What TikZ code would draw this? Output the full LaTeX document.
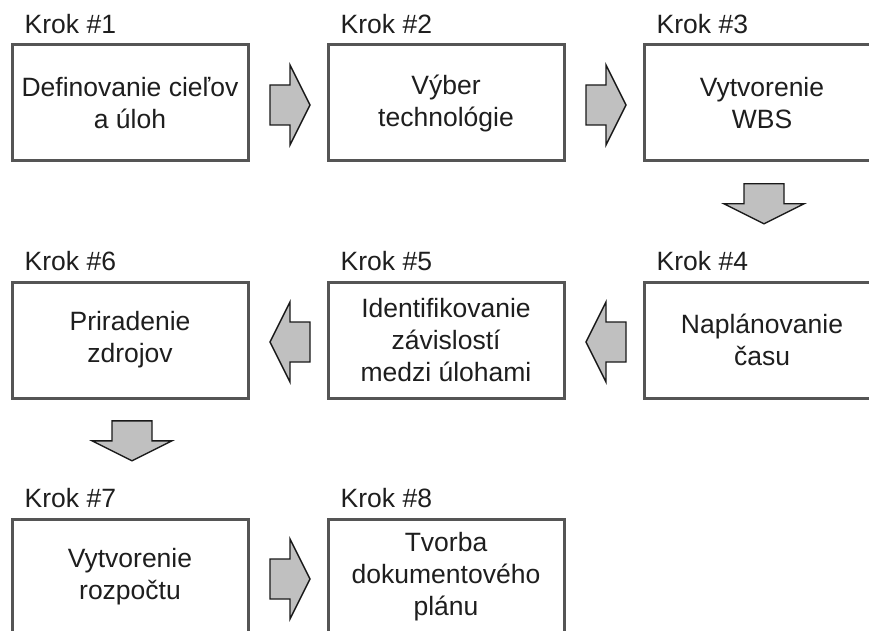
\documentclass[tikz,border=0pt]{standalone}
\usepackage{fontspec}
\setmainfont{Liberation Sans}
\usetikzlibrary{calc}

\definecolor{boxline}{HTML}{555555}
\definecolor{arrowfill}{HTML}{C0C0C0}
\definecolor{ink}{HTML}{1E1E1E}

\tikzset{
  stepbox/.style={draw=boxline, line width=3pt, fill=white,
    minimum width=236pt, minimum height=116pt, inner sep=0pt,
    align=center, text=ink,
    font=\fontsize{26.5}{32}\selectfont},
  steplabel/.style={anchor=base west, inner sep=0pt, text=ink,
    font=\fontsize{26.5}{32}\selectfont},
  blockarrow/.pic={
    \draw[draw=black!90, fill=arrowfill, line width=1.4pt, line join=miter]
      (-20,-20) -- (0,-20) -- (0,-40) -- (20,0) -- (0,40) -- (0,20)
      -- (-20,20) -- cycle;
  }
}

\begin{document}
\begin{tikzpicture}[x=1pt, y=-1pt]
  \useasboundingbox (0,0) rectangle (869,631);
  \clip (0,0) rectangle (869,631);

  % step boxes, three columns and three rows
  \node[stepbox] (b1) at (130,103) {Definovanie cieľov\\a úloh};
  \node[stepbox] (b2) at (446,103) {Výber\\technológie};
  \node[stepbox] (b3) at (762,103) {Vytvorenie\\WBS};
  \node[stepbox] (b4) at (762,340) {Naplánovanie\\času};
  \node[stepbox] (b5) at (446,340) {Identifikovanie\\závislostí\\medzi úlohami};
  \node[stepbox] (b6) at (130,340) {Priradenie\\zdrojov};
  \node[stepbox] (b7) at (130,577) {Vytvorenie\\rozpočtu};
  \node[stepbox] (b8) at (446,577) {Tvorba\\dokumentového\\plánu};

  % step captions above each box
  \foreach \i in {1,...,8}
    \node[steplabel] (k\i) at ([shift={(14,-10)}]b\i.north west) {Krok \#\i};

  % block arrows between consecutive steps
  \pic at ($(b1.east)!0.5!(b2.west)+(2,2)$) {blockarrow};
  \pic at ($(b2.east)!0.5!(b3.west)+(2,2)$) {blockarrow};
  \pic[rotate=-90] at ($(b3.south)!0.5!(b3.south |- k4.north)+(2,-3)$) {blockarrow};
  \pic[rotate=180] at ($(b4.west)!0.5!(b5.east)+(2,2)$) {blockarrow};
  \pic[rotate=180] at ($(b5.west)!0.5!(b6.east)+(2,2)$) {blockarrow};
  \pic[rotate=-90] at ($(b6.south)!0.5!(b6.south |- k7.north)+(2,-3)$) {blockarrow};
  \pic at ($(b7.east)!0.5!(b8.west)+(2,2)$) {blockarrow};
\end{tikzpicture}
\end{document}
